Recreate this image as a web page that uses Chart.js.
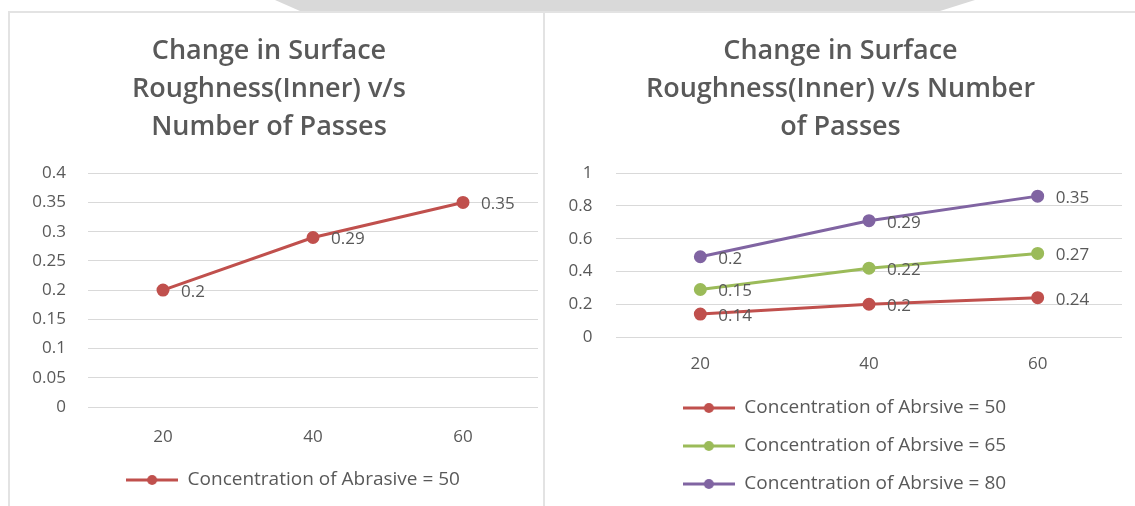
<!DOCTYPE html>
<html>
<head>
<meta charset="utf-8">
<script src="https://cdn.jsdelivr.net/npm/chart.js"></script>
<style>
  html, body { margin: 0; padding: 0; background: #fff; }
  body { width: 1135px; height: 506px; position: relative; overflow: hidden; }
  #band { position: absolute; left: 0; top: 0; width: 1135px; height: 11px; background: #d9d9d9;
          clip-path: polygon(275px 0, 975px 0, 940px 11px, 300px 11px); }
  #panelL { position: absolute; left: 8px; top: 11px; width: 537px; height: 500px;
            border: 2px solid #e3e3e3; border-bottom: none; box-sizing: border-box; }
  #panelR { position: absolute; left: 545px; top: 11px; width: 600px; height: 500px;
            border-top: 2px solid #e3e3e3; box-sizing: border-box; }
  canvas { position: absolute; }
  #left { left: 0px; top: 13px; }
  #right { left: 549px; top: 13px; }
</style>
</head>
<body>
<div id="band"></div>
<div id="panelL"></div>
<div id="panelR"></div>
<canvas id="left" width="546" height="493"></canvas>
<canvas id="right" width="586" height="493"></canvas>

<script>
  // passes on the x axis
  const passes = ['20', '40', '60'];

  // left chart
  const abrasive50 = [0.2, 0.29, 0.35];

  // right chart (stacked lines, labels show each series' own value)
  const abrsive50 = [0.14, 0.2, 0.24];
  const abrsive65 = [0.15, 0.22, 0.27];
  const abrsive80 = [0.2, 0.29, 0.35];

  const RED = '#C0504D', GREEN = '#9BBB59', PURPLE = '#8064A2';
  const GREY = '#595959';

  Chart.defaults.font.family = "'Open Sans', sans-serif";
  Chart.defaults.color = GREY;

  /*** marker for the legend: a short line with a dot ***/
  function legendMark(color){
    const c = document.createElement('canvas');
    c.width = 52; c.height = 12;
    const g = c.getContext('2d');
    g.strokeStyle = color;
    g.lineWidth = 3;
    g.beginPath(); g.moveTo(0, 6); g.lineTo(52, 6); g.stroke();
    g.fillStyle = color;
    g.beginPath(); g.arc(26, 6, 5, 0, Math.PI * 2); g.fill();
    return c;
  }

  /*** value labels to the right of each point ***/
  const valueLabels = {
    id: 'valueLabels',
    afterDatasetsDraw(chart){
      const ctx = chart.ctx;
      ctx.save();
      ctx.font = "17px 'Open Sans', sans-serif";
      ctx.fillStyle = GREY;
      ctx.textAlign = 'left';
      ctx.textBaseline = 'middle';
      chart.data.datasets.forEach((ds, i) => {
        chart.getDatasetMeta(i).data.forEach((pt, j) => {
          ctx.fillText(String(ds.data[j]), pt.x + 18, pt.y + 2);
        });
      });
      ctx.restore();
    }
  };

  /*** move the legend sideways (excel centres it under the plot) ***/
  const legendShift = {
    id: 'legendShift',
    afterLayout(chart, args, opts){
      if (opts.dx && chart.legend){
        chart.legend.left += opts.dx;
        chart.legend.right += opts.dx;
      }
    }
  };

  function series(label, values, color){
    return {
      label: label,
      data: values,
      borderColor: color,
      backgroundColor: color,
      pointBackgroundColor: color,
      pointBorderColor: color,
      borderWidth: 3,
      pointRadius: 5,
      pointHoverRadius: 5,
      tension: 0,
      fill: false
    };
  }

  function options(cfg){
    return {
      responsive: false,
      animation: false,
      layout: { padding: { left: cfg.padLeft, right: cfg.padRight, top: 0, bottom: cfg.padBottom } },
      scales: {
        x: {
          offset: true,
          grid: { display: false, drawTicks: false },
          border: { display: false },
          ticks: { padding: cfg.xPad, font: { size: 17 }, color: GREY },
          afterFit: s => { s.height = cfg.xHeight; }
        },
        y: {
          stacked: cfg.stacked,
          min: 0,
          max: cfg.max,
          grid: { color: '#D9D9D9', drawTicks: false },
          border: { display: false },
          ticks: {
            stepSize: cfg.step,
            padding: cfg.yPad,
            font: { size: 17 },
            color: GREY,
            callback: v => String(+v.toFixed(2))
          },
          afterFit: s => { s.width = cfg.yWidth; }
        }
      },
      plugins: {
        title: {
          display: true,
          text: cfg.title,
          color: GREY,
          font: { size: 27, weight: '600', lineHeight: 1.41 },
          padding: { top: 19, bottom: 27 }
        },
        legend: {
          position: 'bottom',
          labels: {
            usePointStyle: true,
            pointStyleWidth: 52,
            boxHeight: 12,
            padding: cfg.legendPad,
            color: GREY,
            font: { size: 19 },
            generateLabels: chart => Chart.defaults.plugins.legend.labels.generateLabels(chart)
              .map(item => Object.assign(item, {
                pointStyle: legendMark(chart.data.datasets[item.datasetIndex].borderColor)
              }))
          }
        },
        legendShift: { dx: cfg.legendDx },
        tooltip: { enabled: false }
      }
    };
  }

  new Chart(document.getElementById('left'), {
    type: 'line',
    data: {
      labels: passes,
      datasets: [ series('Concentration of Abrasive = 50', abrasive50, RED) ]
    },
    options: options({
      title: ['Change in Surface', 'Roughness(Inner) v/s', 'Number of Passes'],
      padLeft: 0, padRight: 8, padBottom: 6.5,
      xPad: 20, xHeight: 53.5,
      yWidth: 88, yPad: 22,
      max: 0.4, step: 0.05, stacked: false,
      legendPad: 10, legendDx: 24
    }),
    plugins: [valueLabels, legendShift]
  });

  new Chart(document.getElementById('right'), {
    type: 'line',
    data: {
      labels: passes,
      datasets: [
        series('Concentration of Abrsive = 50', abrsive50, RED),
        series('Concentration of Abrsive = 65', abrsive65, GREEN),
        series('Concentration of Abrsive = 80', abrsive80, PURPLE)
      ]
    },
    options: options({
      title: ['Change in Surface', 'Roughness(Inner) v/s Number', 'of Passes'],
      padLeft: 10, padRight: 13, padBottom: 2.5,
      xPad: 17, xHeight: 42.5,
      yWidth: 57, yPad: 23.5,
      max: 1, step: 0.2, stacked: true,
      legendPad: 19, legendDx: 4
    }),
    plugins: [valueLabels, legendShift]
  });
</script>
</body>
</html>
